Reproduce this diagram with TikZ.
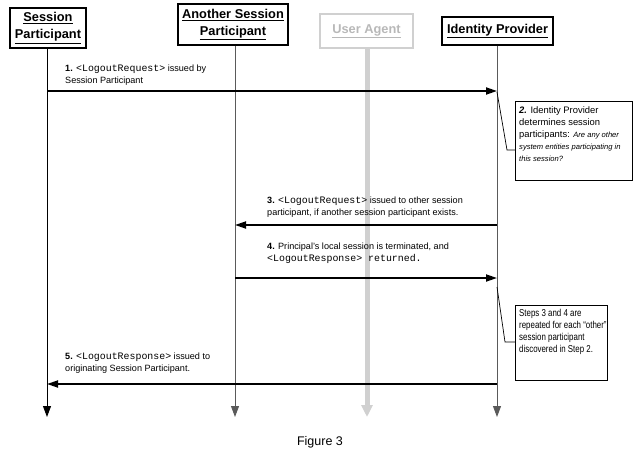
\documentclass[tikz,border=0pt]{standalone}
\usepackage{fontspec}
\setmainfont{Liberation Sans}
\setmonofont{Liberation Mono}
\newfontfamily\narrowsf{Liberation Sans}[FakeStretch=0.79]
\usetikzlibrary{arrows.meta}
\definecolor{lifegray}{HTML}{5A5A5A}
\definecolor{uagray}{HTML}{D0D0D0}
\definecolor{uatext}{HTML}{B8B8B8}
\newcommand{\mn}[1]{{\ttfamily\fontsize{9.9}{12}\selectfont #1}}
\newcommand{\nit}{\fontsize{7.6}{11.5}\selectfont\itshape}
\begin{document}
\begin{tikzpicture}[x=1pt,y=-1pt,
  actor/.style={draw, line width=1.6pt, align=center, inner sep=0pt,
    font=\fontsize{12.8}{17}\selectfont\bfseries},
  lifeline/.style={line width=0.9pt, -{Triangle[length=11pt,width=8pt]}},
  msg/.style={line width=1.8pt, -{Triangle[length=11pt,width=7pt]}},
  lbl/.style={anchor=north west, align=left, inner sep=0pt,
    font=\fontsize{9.1}{12}\selectfont},
  notebox/.style={draw, line width=0.7pt, anchor=north west, inner sep=0pt},
  notetext/.style={anchor=north west, align=left, inner sep=0pt,
    font=\fontsize{9.4}{12}\selectfont},
  notelink/.style={line width=0.7pt}]
\useasboundingbox (0,0) rectangle (639,455);

% actors
\node[actor, minimum width=76pt, minimum height=40pt] (sp) at (48,28)
  {\underline{Session}\\\underline{Participant}};
\node[actor, minimum width=110pt, minimum height=41pt] (asp) at (233,24.5)
  {\underline{Another Session}\\\underline{Participant}};
\node[actor, draw=uagray, text=uatext, minimum width=93pt, minimum height=34pt] (ua) at (366.5,31)
  {\underline{User Agent}};
\node[actor, line width=1.3pt, minimum width=111pt, minimum height=28pt] (idp) at (497.5,31)
  {\underline{Identity Provider}};

% lifeline ends
\coordinate (spE) at (47,417);
\coordinate (aspE) at (235,417);
\coordinate (uaE) at (367,417);
\coordinate (idpE) at (497,417);

\draw[lifeline, black] (sp.south -| spE) -- (spE);
\draw[lifeline, lifegray] (asp.south -| aspE) -- (aspE);
\draw[lifeline, uagray, line width=5pt, -{Triangle[length=12pt,width=11pt]}] (ua.south -| uaE) -- (uaE);
\draw[lifeline, lifegray] (idp.south -| idpE) -- (idpE);

% message points
\coordinate (sp1) at (47,91);   \coordinate (idp1) at (497,91);
\coordinate (idp3) at (497,225); \coordinate (asp3) at (235,225);
\coordinate (asp4) at (235,278); \coordinate (idp4) at (497,278);
\coordinate (idp5) at (497,384); \coordinate (sp5) at (47,384);

\draw[msg] (sp1) -- (idp1);
\draw[msg] (idp3) -- (asp3);
\draw[msg] (asp4) -- (idp4);
\draw[msg] (idp5) -- (sp5);

% labels
\node[lbl] (l1) at (65,64.5)
  {\textbf{1.} \mn{<LogoutRequest>} issued by\\Session Participant};
\node[lbl] (l3) at (267,197)
  {\textbf{3.} \mn{<LogoutRequest>} issued to other session\\participant, if another session participant exists.};
\node[lbl] (l4) at (267,242.5)
  {\textbf{4.} Principal's local session is terminated, and\\\mn{<LogoutResponse> returned.}};
\node[lbl] (l5) at (65,353)
  {\textbf{5.} \mn{<LogoutResponse>} issued to\\originating Session Participant.};

% notes
\node[notebox, minimum width=117pt, minimum height=79pt] (n2) at (515,101) {};
\node[notetext] (t2) at (519,106)
  {\textbf{\textit{2.}} Identity Provider\\determines session\\participants: {\nit Are any other}\\\nit system entities participating in\\\nit this session?};
\node[notebox, minimum width=92pt, minimum height=75pt] (n3) at (515,305) {};
\node[notetext, font=\narrowsf\fontsize{10}{12}\selectfont] (t3) at (519,309.5)
  {Steps 3 and 4 are\\repeated for each “other”\\session participant\\discovered in Step 2.};

\coordinate (k2) at (507,150);
\coordinate (k3) at (505,342);
\coordinate (idp2) at (497,92);
\coordinate (idp6) at (497,287);
\draw[notelink] (idp2) -- (k2) -- (k2 -| n2.west);
\draw[notelink] (idp6) -- (k3) -- (k3 -| n3.west);

\node[font=\fontsize{12.5}{14}\selectfont] (fig) at (320,442) {Figure 3};
\end{tikzpicture}
\end{document}
